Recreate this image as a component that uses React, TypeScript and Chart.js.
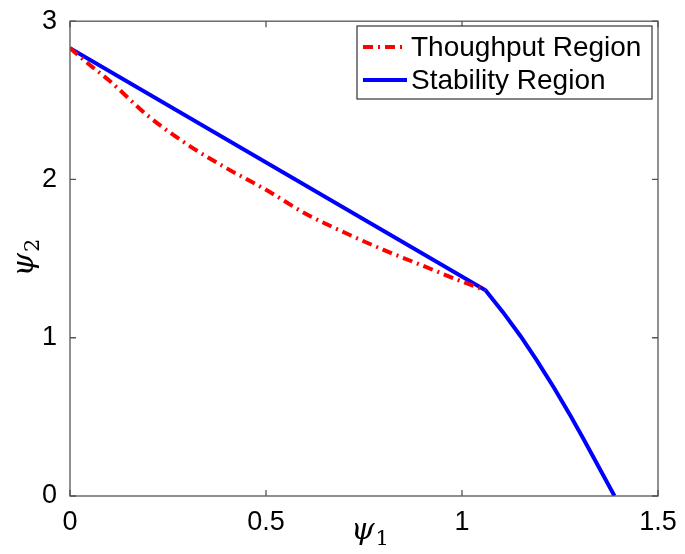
import React, { useEffect, useRef } from "react";
import { Chart, registerables } from "chart.js";

Chart.register(...registerables);

const throughputX = [0, 0.05, 0.1, 0.2, 0.3, 0.4, 0.5, 0.6, 0.7, 0.8, 0.9, 1.0, 1.06];
const throughputY = [2.83, 2.725, 2.625, 2.4, 2.22, 2.07, 1.935, 1.785, 1.665, 1.555, 1.455, 1.355, 1.3];
const stabilityX = [0, 1.06, 1.105, 1.15, 1.19, 1.235, 1.276, 1.31, 1.344, 1.389];
const stabilityY = [2.83, 1.3, 1.16, 1.008, 0.86, 0.682, 0.51, 0.36, 0.205, 0];
const seriesLabels = ["Thoughput Region", "Stability Region"];
const xTicks = [0, 0.5, 1, 1.5];
const yTicks = [0, 1, 2, 3];

const RED = "#ff0000";
const BLUE = "#0000ff";
const FRAME = "#555555";
const TICK_FONT = "Liberation Sans, Arial, sans-serif";
const SERIF = "DejaVu Serif, Liberation Serif, serif";

const framePlugin = {
  id: "framePlugin",
  afterDraw(chart: any) {
    const { ctx, chartArea } = chart;
    const { left, right, top, bottom } = chartArea;
    const xs = chart.scales.x;
    const ys = chart.scales.y;
    ctx.save();
    ctx.strokeStyle = FRAME;
    ctx.lineWidth = 1.3;
    ctx.strokeRect(left, top, right - left, bottom - top);
    const tl = 6;
    ctx.beginPath();
    xTicks.forEach((v) => {
      const px = xs.getPixelForValue(v);
      ctx.moveTo(px, bottom);
      ctx.lineTo(px, bottom - tl);
      ctx.moveTo(px, top);
      ctx.lineTo(px, top + tl);
    });
    yTicks.forEach((v) => {
      const py = ys.getPixelForValue(v);
      ctx.moveTo(left, py);
      ctx.lineTo(left + tl, py);
      ctx.moveTo(right, py);
      ctx.lineTo(right - tl, py);
    });
    ctx.stroke();

    // legend
    const lx = 357, ly = 26, lw = 295, lh = 73;
    ctx.fillStyle = "#ffffff";
    ctx.fillRect(lx, ly, lw, lh);
    ctx.strokeStyle = "#333333";
    ctx.lineWidth = 1.2;
    ctx.strokeRect(lx, ly, lw, lh);
    const rows = [ly + 21, ly + 54];
    chart.data.datasets.forEach((ds: any, i: number) => {
      const y = rows[i];
      ctx.beginPath();
      ctx.strokeStyle = ds.borderColor;
      ctx.lineWidth = ds.borderWidth;
      ctx.setLineDash(ds.borderDash || []);
      ctx.moveTo(363, y);
      ctx.lineTo(407, y);
      ctx.stroke();
      ctx.setLineDash([]);
      ctx.fillStyle = "#000000";
      ctx.font = `28px ${TICK_FONT}`;
      ctx.textAlign = "left";
      ctx.textBaseline = "middle";
      ctx.fillText(ds.label, 411, y + 1);
    });

    // axis titles
    const drawPsi = (sub: string, x: number, y: number) => {
      ctx.fillStyle = "#000000";
      ctx.textBaseline = "alphabetic";
      ctx.textAlign = "left";
      ctx.font = `italic 30px ${SERIF}`;
      const w = ctx.measureText("\u03C8").width;
      ctx.fillText("\u03C8", x, y);
      ctx.font = `21px ${SERIF}`;
      ctx.fillText(sub, x + w + 1, y + 6);
    };
    drawPsi("1", 351, 539);
    ctx.save();
    ctx.translate(33, (top + bottom) / 2);
    ctx.rotate(-Math.PI / 2);
    drawPsi("2", -18, 0);
    ctx.restore();
    ctx.restore();
  },
};

export default function App() {
  const ref = useRef<HTMLCanvasElement | null>(null);
  useEffect(() => {
    if (!ref.current) return;
    const chart = new Chart(ref.current, {
      type: "scatter",
      data: {
        datasets: [
          {
            label: seriesLabels[0],
            data: throughputX.map((x, i) => ({ x, y: throughputY[i] })),
            showLine: true,
            borderColor: RED,
            backgroundColor: RED,
            borderWidth: 4,
            borderDash: [10, 5, 2, 5],
            pointRadius: 0,
            cubicInterpolationMode: "monotone",
          },
          {
            label: seriesLabels[1],
            data: stabilityX.map((x, i) => ({ x, y: stabilityY[i] })),
            showLine: true,
            borderColor: BLUE,
            backgroundColor: BLUE,
            borderWidth: 4,
            pointRadius: 0,
            tension: 0,
          },
        ],
      },
      options: {
        animation: false,
        responsive: false,
        maintainAspectRatio: false,
        layout: { padding: { top: 19, right: 27, left: 0, bottom: 0 } },
        plugins: { legend: { display: false }, tooltip: { enabled: false } },
        scales: {
          x: {
            type: "linear",
            min: 0,
            max: 1.5,
            afterFit: (s: any) => {
              s.height = 58;
            },
            afterBuildTicks: (s: any) => {
              s.ticks = xTicks.map((v) => ({ value: v }));
            },
            grid: { display: false },
            border: { display: false },
            ticks: {
              color: "#000000",
              padding: 2,
              maxRotation: 0,
              callback: (v: any) => String(v),
              font: { family: TICK_FONT, size: 27 },
            },
          },
          y: {
            type: "linear",
            min: 0,
            max: 3,
            afterFit: (s: any) => {
              s.width = 70;
            },
            afterBuildTicks: (s: any) => {
              s.ticks = yTicks.map((v) => ({ value: v }));
            },
            grid: { display: false },
            border: { display: false },
            ticks: {
              color: "#000000",
              padding: 5,
              callback: (v: any) => String(v),
              font: { family: TICK_FONT, size: 27 },
            },
          },
        },
      },
      plugins: [framePlugin],
    } as any);
    return () => chart.destroy();
  }, []);
  return (
    <div style={{ position: "fixed", left: 0, top: 0, width: 685, height: 554, background: "#fff" }}>
      <canvas ref={ref} width={685} height={554} style={{ width: 685, height: 554 }} />
    </div>
  );
}
